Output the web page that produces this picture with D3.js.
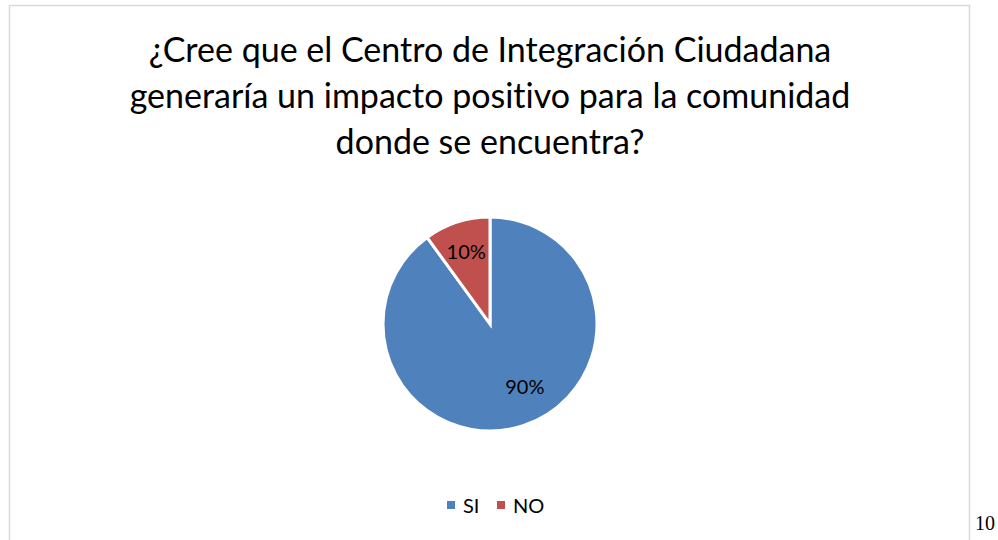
<!DOCTYPE html>
<html><head><meta charset="utf-8">
<script src="https://cdn.jsdelivr.net/npm/d3@7"></script>
<style>body{margin:0;background:#fff;}svg{display:block;} text{font-variant-ligatures:none;}</style>
</head><body>
<script>
const categories = ["SI", "NO"];
const values = [90, 10];
const labels = ["90%", "10%"];
const colors = ["#4F81BD", "#C0504D"];
const titleLines = ["¿Cree que el Centro de Integración Ciudadana", "generaría un impacto positivo para la comunidad", "donde se encuentra?"];
const pageNumber = "10";

const W = 998, H = 540;
const svg = d3.select("body").append("svg").attr("width", W).attr("height", H);
const font = "Lato, 'Open Sans', sans-serif";

svg.append("path").attr("d", "M9.5,540 V5.5 H969.5 V540")
  .attr("fill", "none").attr("stroke", "#d9d9d9").attr("stroke-width", 1.5);

svg.append("g").selectAll("text").data(titleLines).join("text")
  .attr("x", 490).attr("y", (d, i) => 62 + i * 46)
  .attr("text-anchor", "middle").attr("font-family", font).attr("font-size", 34)
  .attr("fill", "#000").text(d => d);

const cx = 490, cy = 324, R = 107;
const pie = d3.pie().sort(null).startAngle(0).endAngle(2 * Math.PI);
const arcs = pie(values);
const arc = d3.arc().innerRadius(0).outerRadius(R);
const labelArc = d3.arc().innerRadius(R * 0.72).outerRadius(R * 0.72);
const g = svg.append("g").attr("transform", `translate(${cx},${cy})`);
g.selectAll("path").data(arcs).join("path")
  .attr("d", arc).attr("fill", (d, i) => colors[i])
  .attr("stroke", "#fff").attr("stroke-width", 3).attr("stroke-linejoin", "miter");
g.selectAll("text").data(arcs).join("text")
  .attr("transform", d => {
    const [x, y] = labelArc.centroid(d);
    // large slice: Excel best-fit pulls label slightly toward the slice's interior
    return (d.endAngle - d.startAngle) > Math.PI ? `translate(${x + 11},${y - 11})` : `translate(${x},${y})`;
  })
  .attr("text-anchor", "middle").attr("dominant-baseline", "central")
  .attr("font-family", font).attr("font-size", 20).attr("fill", "#000")
  .text((d, i) => labels[i]);

const legend = svg.append("g");
const legX = [447, 497];
categories.forEach((c, i) => {
  legend.append("rect").attr("x", legX[i]).attr("y", 501).attr("width", 8).attr("height", 8).attr("fill", colors[i]);
  legend.append("text").attr("x", legX[i] + 16).attr("y", 505).attr("dominant-baseline", "central")
    .attr("font-family", font).attr("font-size", 20).attr("fill", "#000").text(c);
});

svg.append("text").attr("x", 975).attr("y", 530).attr("font-family", "'Liberation Serif', 'DejaVu Serif', serif")
  .attr("font-size", 20).attr("fill", "#000").text(pageNumber);
</script>
</body></html>
